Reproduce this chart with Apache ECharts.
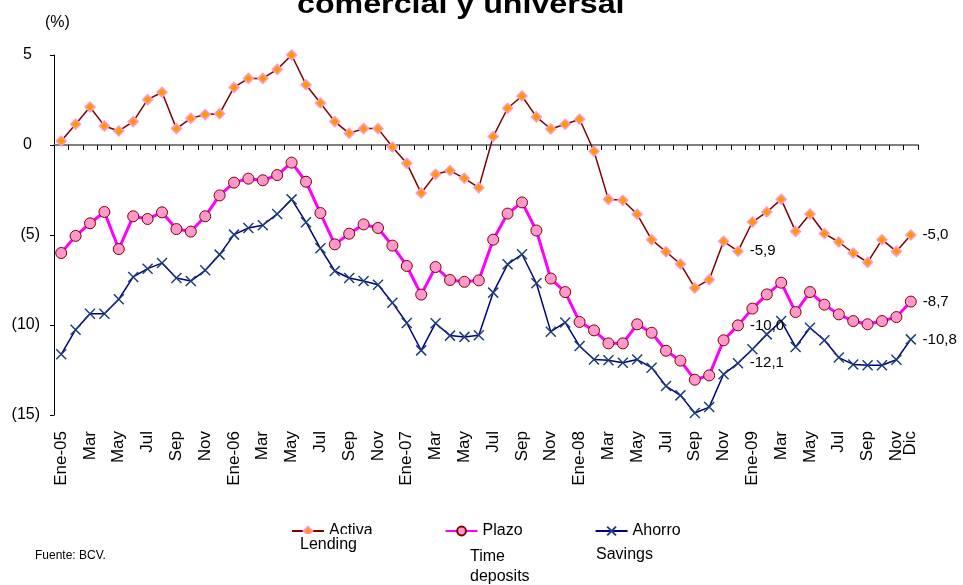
<!DOCTYPE html>
<html>
<head>
<meta charset="utf-8">
<script src="https://cdn.jsdelivr.net/npm/echarts@6/dist/echarts.min.js"></script>
<style>html,body{margin:0;padding:0;background:#fff}#c{width:963px;height:585px}</style>
</head>
<body>
<div id="c"></div>
<script>
const categories = [
  "Ene-05","Feb","Mar","Abr","May","Jun","Jul","Ago","Sep","Oct","Nov","Dic",
  "Ene-06","Feb","Mar","Abr","May","Jun","Jul","Ago","Sep","Oct","Nov","Dic",
  "Ene-07","Feb","Mar","Abr","May","Jun","Jul","Ago","Sep","Oct","Nov","Dic",
  "Ene-08","Feb","Mar","Abr","May","Jun","Jul","Ago","Sep","Oct","Nov","Dic",
  "Ene-09","Feb","Mar","Abr","May","Jun","Jul","Ago","Sep","Oct","Nov","Dic"
];
const activa = [0.22,1.15,2.11,1.06,0.78,1.30,2.52,2.93,0.91,1.48, 1.69,1.74,3.20,3.70,3.70,4.20,5.00,3.35,2.33,1.30, 0.65,0.91,0.91,-0.11,-1.02,-2.67,-1.63,-1.42,-1.85,-2.37, 0.47,2.04,2.72,1.56,0.89,1.15,1.43,-0.35,-3.02,-3.07, -3.85,-5.26,-5.93,-6.61,-7.94,-7.48,-5.35,-5.90,-4.28,-3.72, -3.02,-4.80,-3.83,-4.92,-5.39,-6.00,-6.52,-5.26,-5.91,-5.00];
const plazo = [-6.00,-5.05,-4.35,-3.72,-5.78,-3.96,-4.11,-3.74,-4.67,-4.81, -3.96,-2.80,-2.09,-1.87,-1.96,-1.67,-0.98,-2.04,-3.78,-5.52, -4.93,-4.41,-4.61,-5.59,-6.72,-8.31,-6.78,-7.50,-7.60,-7.52, -5.26,-3.81,-3.19,-4.75,-7.42,-8.17,-9.83,-10.30,-11.02,-11.02, -9.96,-10.43,-11.43,-11.98,-13.04,-12.80,-10.85,-10.02,-9.09,-8.30, -7.65,-9.28,-8.17,-8.87,-9.41,-9.78,-9.96,-9.78,-9.56,-8.70];
const ahorro = [-11.63,-10.26,-9.37,-9.37,-8.57,-7.33,-6.87,-6.56,-7.39,-7.56, -6.96,-6.09,-4.98,-4.61,-4.46,-3.83,-3.02,-4.29,-5.74,-7.00, -7.39,-7.56,-7.76,-8.76,-9.89,-11.41,-9.90,-10.59,-10.66,-10.57, -8.20,-6.63,-6.07,-7.68,-10.37,-9.86,-11.17,-11.92,-11.96,-12.10, -11.92,-12.37,-13.39,-13.91,-14.89,-14.56,-12.74,-12.12,-11.35,-10.52, -9.78,-11.22,-10.15,-10.85,-11.81,-12.19,-12.24,-12.24,-11.93,-10.80];
const seriesNames = ["Activa","Plazo","Ahorro"];
const englishNames = ["Lending","Time\ndeposits","Savings"];
const labelIdx = [47, 59];
const yTicks = {min: -15, max: 5, interval: 5};

const FONT = "Liberation Sans, Arial, sans-serif";
const lastIdx = categories.length - 1;
function fmtLabel(p) {
  if (labelIdx.indexOf(p.dataIndex) < 0) return "";
  return p.value.toFixed(1).replace(".", ",");
}
const lbl = {show: true, position: "right", distance: 6, formatter: fmtLabel, color: "#000", fontFamily: FONT, fontSize: 15};
function labelAxis(filter, extra) {
  return {type: "category", data: categories, position: "bottom", boundaryGap: true,
    axisLine: {show: false, onZero: false}, axisTick: {show: false},
    axisLabel: Object.assign({rotate: 90, margin: 16, fontFamily: FONT, fontSize: 17, color: "#000",
      hideOverlap: false, interval: filter}, extra || {})};
}

const chart = echarts.init(document.getElementById("c"), null, {renderer: "canvas"});
chart.setOption({
  animation: false,
  backgroundColor: "#fff",
  grid: {left: 54, right: 45, top: 55, bottom: 170, containLabel: false},
  legend: {
    data: seriesNames, left: 286, top: 518, itemWidth: 32, itemHeight: 11, itemGap: 72,
    textStyle: {fontFamily: FONT, fontSize: 16, color: "#000"}
  },
  xAxis: [
    labelAxis(function (i) { return i % 2 === 0; }),
    {type: "category", data: categories, position: "bottom", boundaryGap: true,
     axisLine: {show: true, onZero: true, lineStyle: {color: "#808080", width: 2}},
     axisTick: {show: true, interval: 0, length: 5, lineStyle: {color: "#000", width: 1}},
     axisLabel: {show: false}},
    labelAxis(function (i) { return i === lastIdx; }, {showMinLabel: false, showMaxLabel: true, padding: [0, 0, 0, 0]})
  ],
  yAxis: {
    type: "value", min: yTicks.min, max: yTicks.max, interval: yTicks.interval,
    axisLine: {show: true, lineStyle: {color: "#000", width: 1}},
    axisTick: {show: true, inside: false, length: 4, lineStyle: {color: "#000"}},
    splitLine: {show: false},
    axisLabel: {margin: 14, fontFamily: FONT, fontSize: 16, color: "#000",
      formatter: function (v) { return v < 0 ? "(" + Math.abs(v) + ")" : v + "\u2002"; }}
  },
  series: [
    {name: seriesNames[0], type: "line", data: activa, xAxisIndex: 0,
     lineStyle: {color: "#800000", width: 1.5},
     symbol: "diamond", symbolSize: 10, showAllSymbol: true,
     itemStyle: {color: "#FF9900", borderColor: "#FF99CC", borderWidth: 1.5},
     label: lbl, z: 3},
    {name: seriesNames[1], type: "line", data: plazo, xAxisIndex: 0,
     lineStyle: {color: "#FF00FF", width: 3},
     symbol: "circle", symbolSize: 11, showAllSymbol: true,
     itemStyle: {color: "#FF99CC", borderColor: "#800000", borderWidth: 1},
     label: lbl, z: 2},
    {name: seriesNames[2], type: "line", data: ahorro, xAxisIndex: 0,
     lineStyle: {color: "#000080", width: 1.5},
     symbol: "path://M0,0L10,10M10,0L0,10", symbolSize: 10, showAllSymbol: true,
     itemStyle: {color: "transparent", borderColor: "#1F3F7A", borderWidth: 1.5},
     label: lbl, z: 1}
  ],
  graphic: [
    {type: "text", x: 297, y: -9, scaleX: 1.15, z: 100,
     style: {text: "comercial y universal", font: "bold 28px " + FONT, fill: "#000"}},
    {type: "text", left: 45, top: 15, z: 100,
     style: {text: "(%)", font: "16px " + FONT, fill: "#000"}},
    {type: "rect", shape: {x: 290, y: 534, width: 90, height: 20}, z: 99, style: {fill: "#fff"}},
    {type: "text", left: 300, top: 537, z: 100,
     style: {text: englishNames[0], font: "16px " + FONT, fill: "#000"}},
    {type: "text", left: 470, top: 547, z: 100,
     style: {text: englishNames[1], font: "16px " + FONT, fill: "#000", lineHeight: 20}},
    {type: "text", left: 596, top: 547, z: 100,
     style: {text: englishNames[2], font: "16px " + FONT, fill: "#000"}},
    {type: "text", left: 35, top: 550, z: 100,
     style: {text: "Fuente: BCV.", font: "12px " + FONT, fill: "#000"}}
  ]
});
</script>
</body>
</html>
